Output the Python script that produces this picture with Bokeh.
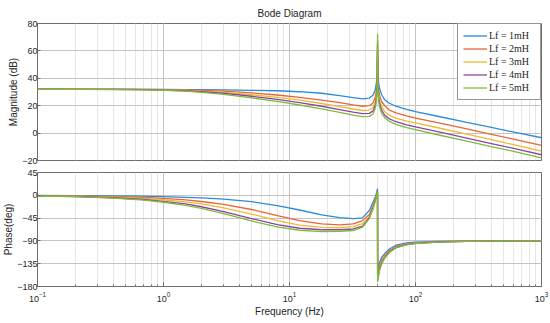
from bokeh.plotting import figure
from bokeh.layouts import column
from bokeh.models import Range1d, Legend, LegendItem, FixedTicker
from bokeh.embed import file_html
from bokeh.resources import INLINE

# ---------------- data ----------------
mag_freq = [0.1, 0.2, 0.4, 0.7, 1, 1.5, 2, 3, 5, 8, 12, 18, 25, 32, 38, 43, 46, 48, 49,
            49.6, 50, 50.4, 51, 52, 54, 57, 62, 70, 85, 100, 150, 250, 400, 650, 1000]
mag_1mH = [32, 32, 32, 31.95, 31.9, 31.8, 31.7, 31.5, 31.2, 30.9, 30.2, 29.1, 27.4, 25.9, 25.0,
           25.6, 27.6, 31.8, 37.2, 45, 60, 45, 36.5, 32, 27.8, 24.3, 21.8, 19.6, 17.4, 15.6,
           12.3, 8.0, 4.1, 0.1, -3.4]
mag_2mH = [32, 32, 31.95, 31.9, 31.8, 31.5, 31.2, 30.6, 29.4, 27.8, 26.1, 24.1, 22.2, 20.6, 19.6,
           20.0, 22.0, 26.4, 32, 40, 64, 40, 31.5, 27, 22.7, 20, 16.8, 14.8, 12.6, 11.0,
           7.6, 3.2, -0.9, -5.1, -9.0]
mag_3mH = [32, 31.95, 31.9, 31.8, 31.6, 31.2, 30.7, 29.8, 28.0, 26.1, 24.0, 21.6, 19.4, 17.6, 16.5,
           16.8, 18.7, 23.1, 28.7, 37, 66, 37, 28, 23.5, 19.2, 15.6, 13.0, 11.0, 8.8, 7.4,
           3.9, -0.6, -4.8, -9.1, -13.2]
mag_4mH = [32, 31.95, 31.85, 31.7, 31.4, 30.9, 30.3, 29.1, 26.9, 24.6, 22.2, 19.6, 17.2, 15.3, 14.2,
           14.4, 16.2, 20.6, 26.2, 35, 68, 34.8, 25.6, 21, 16.6, 13.0, 10.4, 8.3, 6.0, 4.5,
           1.0, -3.5, -7.6, -11.9, -15.8]
mag_5mH = [32, 31.9, 31.8, 31.6, 31.2, 30.6, 29.8, 28.3, 25.7, 23.1, 20.5, 17.7, 15.2, 13.2, 12.0,
           12.2, 14.0, 18.4, 24.0, 32.8, 72.5, 32.6, 23.4, 18.8, 14.3, 11.3, 8.6, 6.4, 4.0, 2.5,
           -1.2, -5.6, -9.8, -14.0, -18.0]

ph_freq = [0.1, 0.2, 0.4, 0.7, 1, 1.5, 2, 3, 5, 8, 12, 18, 25, 32, 38, 43, 46, 48, 49, 49.6,
           49.95, 50.05, 50.4, 51, 52, 54, 57, 62, 70, 85, 100, 150, 250, 400, 650, 1000]
ph_1mH = [-0.3, -0.5, -1.0, -1.8, -2.6, -3.9, -5.2, -7.7, -12.6, -20.5, -29, -38.5, -44, -46, -44.5,
          -30, -14, -3, 4, 10, 13, -155, -148, -140, -132, -122, -115, -106, -98.5, -94, -92.5,
          -91, -90.4, -90.2, -90.1, -90]
ph_2mH = [-0.6, -1.2, -2.5, -4.3, -6.2, -9.2, -12.2, -17.8, -28, -40, -50, -56.5, -58.5, -56.5, -50,
          -38, -20, -7, 0, 5, 8, -161, -156, -148, -140, -128, -119, -109, -101, -96, -93.8,
          -91.6, -90.7, -90.3, -90.1, -90]
ph_3mH = [-0.9, -1.8, -3.5, -6.1, -8.8, -13, -17, -24.8, -37, -50, -59, -63.5, -64, -62, -56,
          -42, -23, -9, -1, 4, 7, -165, -160, -152, -143, -131, -121, -111, -102.5, -97, -94.5,
          -92, -90.8, -90.3, -90.1, -90]
ph_4mH = [-1.2, -2.4, -4.8, -8.3, -11.8, -17, -22.6, -32, -46, -58, -65, -68, -68, -66.5, -61,
          -44, -25, -10, -2, 3.5, 6.5, -168, -163, -155, -145, -133, -122.5, -112, -103, -97.5, -95,
          -92.2, -90.9, -90.4, -90.1, -90]
ph_5mH = [-1.4, -2.8, -5.6, -9.7, -13.7, -20, -26, -36, -50.7, -62.5, -69, -71.5, -71, -69.5, -63,
          -46, -27, -11, -3, 3, 6, -171, -166, -157, -147, -135, -124, -113, -104, -98, -95.5,
          -92.5, -91, -90.4, -90.1, -90]

labels = ["Lf = 1mH", "Lf = 2mH", "Lf = 3mH", "Lf = 4mH", "Lf = 5mH"]
mag_ticks = [-20, 0, 20, 40, 60, 80]
ph_ticks = [-180, -135, -90, -45, 0, 45]

# ---------------- styling ----------------
colors = ["#2B8CD8", "#E8653A", "#F0BA30", "#8E44A6", "#7BBE3A"]
FONT = "Liberation Sans"
TXT = "#262626"
FRAME = "#6e6e6e"
W = 550
LEFT = 30
RIGHT = 9


def style(p):
    p.outline_line_color = FRAME
    p.outline_line_width = 1
    p.background_fill_color = "white"
    p.border_fill_color = "white"
    p.xgrid.grid_line_color = "#c4c4c4"
    p.xgrid.minor_grid_line_color = "#e6e6e6"
    p.ygrid.grid_line_color = "#c4c4c4"
    for ax in p.yaxis:
        ax.axis_line_color = None
        ax.major_tick_in = 3
        ax.major_tick_out = 0
        ax.minor_tick_line_color = None
        ax.major_tick_line_color = FRAME
        ax.major_label_text_font = FONT
        ax.major_label_text_font_size = "9px"
        ax.major_label_text_color = TXT
        ax.major_label_standoff = 0
        ax.axis_label_text_font = FONT
        ax.axis_label_text_font_size = "10px"
        ax.axis_label_text_font_style = "normal"
        ax.axis_label_text_color = TXT
        ax.axis_label_standoff = 0


top = figure(width=W, height=166, x_axis_type="log",
             x_range=Range1d(0.1, 1000), y_range=Range1d(-20, 80),
             output_backend="svg", toolbar_location=None,
             min_border_left=LEFT, min_border_right=RIGHT,
             min_border_top=22, min_border_bottom=6,
             title="Bode Diagram")
top.title.align = "center"
top.title.text_font = FONT
top.title.text_font_size = "10px"
top.title.text_font_style = "normal"
top.title.text_color = TXT
top.title.standoff = 10
top.title.offset = 0
top.xaxis.visible = False
top.yaxis.ticker = FixedTicker(ticks=mag_ticks)
top.yaxis.axis_label = "Magnitude (dB)"
style(top)

mags = [mag_1mH, mag_2mH, mag_3mH, mag_4mH, mag_5mH]
items = []
for m, c, lab in zip(mags, colors, labels):
    r = top.line(mag_freq, m, line_color=c, line_width=1.3)
    items.append(LegendItem(label=lab, renderers=[r]))

legend = Legend(items=items, location="top_right")
legend.margin = 0
legend.padding = 5
legend.spacing = 0
legend.glyph_width = 24
legend.glyph_height = 13
legend.label_height = 13
legend.label_width = 46
legend.label_standoff = 2
legend.label_text_font = "Liberation Serif"
legend.label_text_font_size = "10px"
legend.label_text_color = TXT
legend.border_line_color = "#303030"
legend.border_line_width = 1
legend.background_fill_color = "white"
legend.background_fill_alpha = 1.0
top.add_layout(legend)

bot = figure(width=W, height=153, x_axis_type="log",
             x_range=top.x_range, y_range=Range1d(-180, 45),
             output_backend="svg", toolbar_location=None,
             min_border_left=LEFT, min_border_right=RIGHT,
             min_border_top=6, min_border_bottom=4)
bot.yaxis.ticker = FixedTicker(ticks=ph_ticks)
bot.yaxis.axis_label = "Phase(deg)"
bot.xaxis.axis_label = "Frequency (Hz)"
style(bot)
ax = bot.xaxis[0]
ax.axis_line_color = None
ax.major_tick_in = 4
ax.major_tick_out = 0
ax.minor_tick_in = 2
ax.minor_tick_out = 0
ax.major_tick_line_color = FRAME
ax.minor_tick_line_color = FRAME
ax.major_label_text_font = FONT
ax.major_label_text_font_size = "9px"
ax.major_label_text_color = TXT
ax.major_label_standoff = 5
ax.axis_label_text_font = FONT
ax.axis_label_text_font_size = "10px"
ax.axis_label_text_font_style = "normal"
ax.axis_label_text_color = TXT
ax.axis_label_standoff = 1

phs = [ph_1mH, ph_2mH, ph_3mH, ph_4mH, ph_5mH]
for ph, c in zip(phs, colors):
    bot.line(ph_freq, ph, line_color=c, line_width=1.3)

layout = column(top, bot, spacing=0)
open("out.html", "w").write(file_html(layout, INLINE))
